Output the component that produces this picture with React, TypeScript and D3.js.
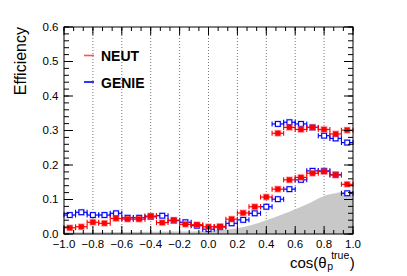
import { useRef, useEffect } from 'react';
import * as d3 from 'd3';

// bin centres of the 25 cos(theta_p) bins (width 0.08)
const binCenters = [
  -0.96, -0.88, -0.8, -0.72, -0.64, -0.56, -0.48, -0.4, -0.32, -0.24, -0.16, -0.08,
  0.0, 0.08, 0.16, 0.24, 0.32, 0.4, 0.48, 0.56, 0.64, 0.72, 0.8, 0.88, 0.96,
];
const halfBin = 0.04;

const neutLow = [
  0.018, 0.021, 0.034, 0.031, 0.045, 0.043, 0.043, 0.052, 0.033, 0.04, 0.028, 0.027,
  0.021, 0.022, 0.043, 0.061, 0.079, 0.107, 0.13, 0.157, 0.164, 0.176, 0.181, 0.171, 0.144,
];
const genieLow = [
  0.055, 0.063, 0.055, 0.055, 0.06, 0.047, 0.047, 0.05, 0.053, 0.039, 0.034, 0.024,
  0.014, 0.02, 0.031, 0.041, 0.06, 0.079, 0.101, 0.13, 0.157, 0.183, 0.183, 0.172, 0.118,
];

// second band, only filled from 0.48 upwards
const highCenters = [0.48, 0.56, 0.64, 0.72, 0.8, 0.88, 0.96];
const neutHigh = [0.292, 0.309, 0.303, 0.309, 0.303, 0.29, 0.301];
const genieHigh = [0.319, 0.324, 0.319, 0.309, 0.285, 0.277, 0.265];

// grey shape along the bottom
const shadeX = [-1.0, -0.6, -0.2, 0.0, 0.1, 0.2, 0.3, 0.4, 0.5, 0.6, 0.7, 0.8, 0.9, 1.0];
const shadeY = [0.005, 0.006, 0.007, 0.009, 0.012, 0.017, 0.026, 0.04, 0.055, 0.072, 0.09, 0.11, 0.12, 0.125];

const xTicks = [-1, -0.8, -0.6, -0.4, -0.2, 0, 0.2, 0.4, 0.6, 0.8, 1];
const xTickLabels = ['−1.0', '−0.8', '−0.6', '−0.4', '−0.2', '0.0', '0.2', '0.4', '0.6', '0.8', '1.0'];
const yTicks = [0, 0.1, 0.2, 0.3, 0.4, 0.5, 0.6];
const yTickLabels = ['0.0', '0.1', '0.2', '0.3', '0.4', '0.5', '0.6'];
const gridLines = [-0.8, -0.6, -0.4, -0.2, 0, 0.2, 0.4, 0.6, 0.8];

const font = '"Liberation Sans", Arial, Helvetica, sans-serif';

export default function App() {
  const svgRef = useRef<SVGSVGElement>(null);
  const width = 407;
  const height = 276;

  function renderChart() {
    const svg = d3.select(svgRef.current);
    svg.selectAll('*').remove();

    const x = d3.scaleLinear().domain([-1, 1]).range([64, 353]);
    const y = d3.scaleLinear().domain([0, 0.6]).range([234, 27]);

    // dotted verticals
    svg
      .append('g')
      .selectAll('line')
      .data(gridLines)
      .join('line')
      .attr('x1', (d) => x(d))
      .attr('x2', (d) => x(d))
      .attr('y1', y(0))
      .attr('y2', y(0.6))
      .attr('stroke', '#777')
      .attr('stroke-width', 1)
      .attr('stroke-dasharray', '1,2');

    // grey area
    const shade = d3
      .area<number>()
      .x((d, i) => x(shadeX[i]))
      .y0(y(0))
      .y1((d) => y(d))
      .curve(d3.curveMonotoneX);
    svg.append('path').attr('d', shade(shadeY)).attr('fill', '#c8c8c8');

    function drawSeries(centers: number[], vals: number[], color: string, pale: string, open: boolean) {
      const g = svg.append('g');
      const pts = g.selectAll('g').data(vals).join('g');
      pts
        .append('rect')
        .attr('x', (d, i) => x(centers[i]) - 3.5)
        .attr('y', (d) => y(d) - 3.5)
        .attr('width', 7)
        .attr('height', 7)
        .attr('fill', pale);
      pts
        .append('line')
        .attr('x1', (d, i) => x(centers[i] - halfBin))
        .attr('x2', (d, i) => x(centers[i] + halfBin))
        .attr('y1', (d) => y(d))
        .attr('y2', (d) => y(d))
        .attr('stroke', color)
        .attr('stroke-width', 1.2);
      [-halfBin, halfBin].forEach((off) => {
        pts
          .append('line')
          .attr('x1', (d, i) => x(centers[i] + off))
          .attr('x2', (d, i) => x(centers[i] + off))
          .attr('y1', (d) => y(d) - 2.5)
          .attr('y2', (d) => y(d) + 2.5)
          .attr('stroke', color)
          .attr('stroke-width', 1.1);
      });
      pts
        .append('rect')
        .attr('x', (d, i) => x(centers[i]) - 2.4)
        .attr('y', (d) => y(d) - 2.4)
        .attr('width', 4.8)
        .attr('height', 4.8)
        .attr('fill', open ? '#fff' : color)
        .attr('stroke', color)
        .attr('stroke-width', open ? 1.1 : 0.4);
    }

    drawSeries(binCenters, genieLow, '#0000ff', 'rgba(120,120,255,0.4)', true);
    drawSeries(highCenters, genieHigh, '#0000ff', 'rgba(120,120,255,0.4)', true);
    drawSeries(binCenters, neutLow, '#ff0000', 'rgba(255,100,100,0.5)', false);
    drawSeries(highCenters, neutHigh, '#ff0000', 'rgba(255,100,100,0.5)', false);

    // frame
    svg
      .append('rect')
      .attr('x', x(-1))
      .attr('y', y(0.6))
      .attr('width', x(1) - x(-1))
      .attr('height', y(0) - y(0.6))
      .attr('fill', 'none')
      .attr('stroke', '#000')
      .attr('stroke-width', 1);

    // ticks
    const axes = svg.append('g').attr('stroke', '#000').attr('stroke-width', 1);
    const xMinor = d3.range(0, 31).map((k) => -1 + (k * 0.2) / 3);
    const yMinor = d3.range(0, 31).map((k) => k * 0.02);
    xMinor.forEach((v) => {
      axes.append('line').attr('x1', x(v)).attr('x2', x(v)).attr('y1', y(0)).attr('y2', y(0) - 4);
      axes.append('line').attr('x1', x(v)).attr('x2', x(v)).attr('y1', y(0.6)).attr('y2', y(0.6) + 4);
    });
    xTicks.forEach((v) => {
      axes.append('line').attr('x1', x(v)).attr('x2', x(v)).attr('y1', y(0)).attr('y2', y(0) - 8);
      axes.append('line').attr('x1', x(v)).attr('x2', x(v)).attr('y1', y(0.6)).attr('y2', y(0.6) + 8);
    });
    yMinor.forEach((v) => {
      axes.append('line').attr('x1', x(-1)).attr('x2', x(-1) + 5).attr('y1', y(v)).attr('y2', y(v));
      axes.append('line').attr('x1', x(1)).attr('x2', x(1) - 5).attr('y1', y(v)).attr('y2', y(v));
    });
    yTicks.forEach((v) => {
      axes.append('line').attr('x1', x(-1)).attr('x2', x(-1) + 9).attr('y1', y(v)).attr('y2', y(v));
      axes.append('line').attr('x1', x(1)).attr('x2', x(1) - 9).attr('y1', y(v)).attr('y2', y(v));
    });

    // tick labels
    svg
      .append('g')
      .selectAll('text')
      .data(xTicks)
      .join('text')
      .attr('x', (d) => x(d))
      .attr('y', 248)
      .attr('text-anchor', 'middle')
      .attr('font-family', font)
      .attr('font-size', 11.5)
      .text((d, i) => xTickLabels[i]);
    svg
      .append('g')
      .selectAll('text')
      .data(yTicks)
      .join('text')
      .attr('x', 58.5)
      .attr('y', (d) => y(d))
      .attr('dy', '0.33em')
      .attr('text-anchor', 'end')
      .attr('font-family', font)
      .attr('font-size', 11.5)
      .text((d, i) => yTickLabels[i]);

    // axis titles
    svg
      .append('text')
      .attr('transform', `translate(25.5,${y(0.6)}) rotate(-90)`)
      .attr('text-anchor', 'end')
      .attr('font-family', font)
      .attr('font-size', 16)
      .text('Efficiency');

    const main = svg
      .append('text')
      .attr('x', 290)
      .attr('y', 268)
      .attr('font-family', font)
      .attr('font-size', 15)
      .text('cos(θ');
    const mainEnd = 290 + (main.node() as SVGTextElement).getComputedTextLength();
    svg
      .append('text')
      .attr('x', mainEnd + 0.5)
      .attr('y', 269.5)
      .attr('font-family', font)
      .attr('font-size', 10.5)
      .text('p');
    const sup = svg
      .append('text')
      .attr('x', mainEnd + 4.5)
      .attr('y', 259)
      .attr('font-family', font)
      .attr('font-size', 10.5)
      .text('true');
    const supEnd = mainEnd + 4.5 + (sup.node() as SVGTextElement).getComputedTextLength();
    svg
      .append('text')
      .attr('x', supEnd + 0.5)
      .attr('y', 268)
      .attr('font-family', font)
      .attr('font-size', 15)
      .text(')');

    // legend
    const legend = [
      { name: 'NEUT', color: '#ff5050', ly: 55.5, ty: 61 },
      { name: 'GENIE', color: '#0000ff', ly: 82, ty: 87.5 },
    ];
    legend.forEach((l) => {
      svg
        .append('line')
        .attr('x1', 84)
        .attr('x2', 94)
        .attr('y1', l.ly)
        .attr('y2', l.ly)
        .attr('stroke', l.color)
        .attr('stroke-width', 1.6);
      svg
        .append('text')
        .attr('x', 101)
        .attr('y', l.ty)
        .attr('font-family', font)
        .attr('font-size', 14)
        .attr('font-weight', 'bold')
        .text(l.name);
    });
  }

  useEffect(() => {
    renderChart();
  }, []);

  return (
    <svg
      ref={svgRef}
      width={width}
      height={height}
      style={{ position: 'absolute', left: 0, top: 0, background: '#fff' }}
    />
  );
}
